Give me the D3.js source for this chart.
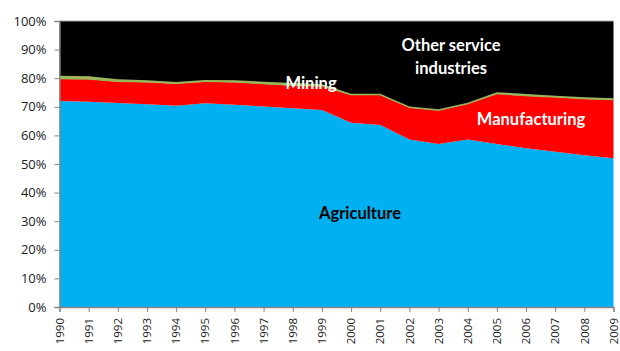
<!DOCTYPE html>
<html>
<head>
<meta charset="utf-8">
<script src="https://cdn.jsdelivr.net/npm/d3@7"></script>
<style>
  html, body { margin: 0; padding: 0; background: #fff; }
  svg { display: block; font-family: "Open Sans", "Liberation Sans", sans-serif; }
</style>
</head>
<body>
<svg id="chart" width="620" height="351"></svg>
<script>
// Share of output by sector, in percent of total
const years = [1990, 1991, 1992, 1993, 1994, 1995, 1996, 1997, 1998, 1999,
               2000, 2001, 2002, 2003, 2004, 2005, 2006, 2007, 2008, 2009];
const agriculture   = [72.0, 71.8, 71.3, 70.9, 70.4, 71.2, 70.7, 70.1, 69.5, 68.9,
                       64.4, 63.6, 58.6, 57.0, 58.6, 57.0, 55.5, 54.3, 53.1, 52.0];
const manufacturing = [ 7.7,  7.8,  7.5,  7.7,  7.7,  7.6,  7.9,  7.9,  7.9,  8.3,
                        9.7, 10.5, 11.1, 11.7, 12.4, 17.5, 18.3, 19.0, 19.6, 20.4];
const mining        = [ 1.2,  1.1,  0.8,  0.7,  0.6,  0.6,  0.7,  0.8,  0.9,  0.7,
                        0.5,  0.5,  0.4,  0.4,  0.4,  0.6,  0.7,  0.6,  0.6,  0.6];
const yTicks = [0, 10, 20, 30, 40, 50, 60, 70, 80, 90, 100];

const seriesKeys = ["Agriculture", "Manufacturing", "Mining", "Other service industries"];
const colors = ["#00B0F0", "#FF0000", "#9BBB59", "#000000"];

const rows = years.map((yr, i) => ({
  year: yr,
  "Agriculture": agriculture[i],
  "Manufacturing": manufacturing[i],
  "Mining": mining[i],
  "Other service industries": 100 - agriculture[i] - manufacturing[i] - mining[i]
}));

const svg = d3.select("#chart");
const plotLeft = 59.5, plotRight = 613.5, plotTop = 21, plotBottom = 307;

const x = d3.scaleLinear().domain([years[0], years[years.length - 1]]).range([plotLeft, plotRight]);
const y = d3.scaleLinear().domain([0, 100]).range([plotBottom, plotTop]);

const stacked = d3.stack().keys(seriesKeys)(rows);
const area = d3.area()
  .x(d => x(d.data.year))
  .y0(d => y(d[0]))
  .y1(d => y(d[1]));

svg.append("g").selectAll("path")
  .data(stacked)
  .join("path")
  .attr("d", area)
  .attr("fill", (d, i) => colors[i])
  .attr("stroke", (d, i) => i === 2 ? "#8CA84E" : "none")
  .attr("stroke-width", 0.6);

// top border of plot
svg.append("line")
  .attr("x1", plotLeft).attr("x2", plotRight)
  .attr("y1", plotTop).attr("y2", plotTop)
  .attr("stroke", "#A6A6A6").attr("stroke-width", 1);

// y axis
const yAxis = d3.axisLeft(y).tickValues(yTicks).tickSize(5).tickFormat(d => d + "%");
const gy = svg.append("g").attr("transform", `translate(${plotLeft},0)`).call(yAxis);
gy.select(".domain").attr("stroke", "#868686").attr("stroke-width", 1.3);
gy.selectAll(".tick line").attr("stroke", "#868686");
gy.selectAll(".tick text")
  .attr("x", -13)
  .attr("fill", "#1a1a1a")
  .style("font-size", "13px")
  .style("font-family", "\"Open Sans\", sans-serif");

// x axis
const xAxis = d3.axisBottom(x).tickValues(years).tickSize(5).tickFormat(d3.format("d"));
const gx = svg.append("g").attr("transform", `translate(0,${plotBottom})`).call(xAxis);
gx.select(".domain").attr("stroke", "#868686").attr("stroke-width", 1.3);
gx.selectAll(".tick line").attr("stroke", "#868686");
gx.selectAll(".tick text")
  .attr("transform", "rotate(-90)")
  .attr("x", -11).attr("y", 0).attr("dy", "0.32em")
  .attr("text-anchor", "end")
  .attr("fill", "#1a1a1a")
  .style("font-size", "11.5px")
  .style("font-family", "\"Open Sans\", sans-serif");

// series labels
const labels = [
  { lines: ["Other service", "industries"], x: 451, y: 51, fill: "#fff", anchor: "middle" },
  { lines: ["Mining"], x: 311, y: 89, fill: "#fff", anchor: "middle" },
  { lines: ["Manufacturing"], x: 531, y: 125, fill: "#fff", anchor: "middle" },
  { lines: ["Agriculture"], x: 360, y: 219, fill: "#000", anchor: "middle" }
];
labels.forEach(l => {
  const t = svg.append("text")
    .attr("x", l.x).attr("y", l.y)
    .attr("text-anchor", l.anchor)
    .attr("fill", l.fill)
    .style("font-family", "Lato, \"Open Sans\", sans-serif")
    .style("font-weight", "bold")
    .style("font-size", "16.5px");
  l.lines.forEach((s, i) => {
    t.append("tspan").attr("x", l.x).attr("dy", i === 0 ? 0 : 23).text(s);
  });
});
</script>
</body>
</html>
